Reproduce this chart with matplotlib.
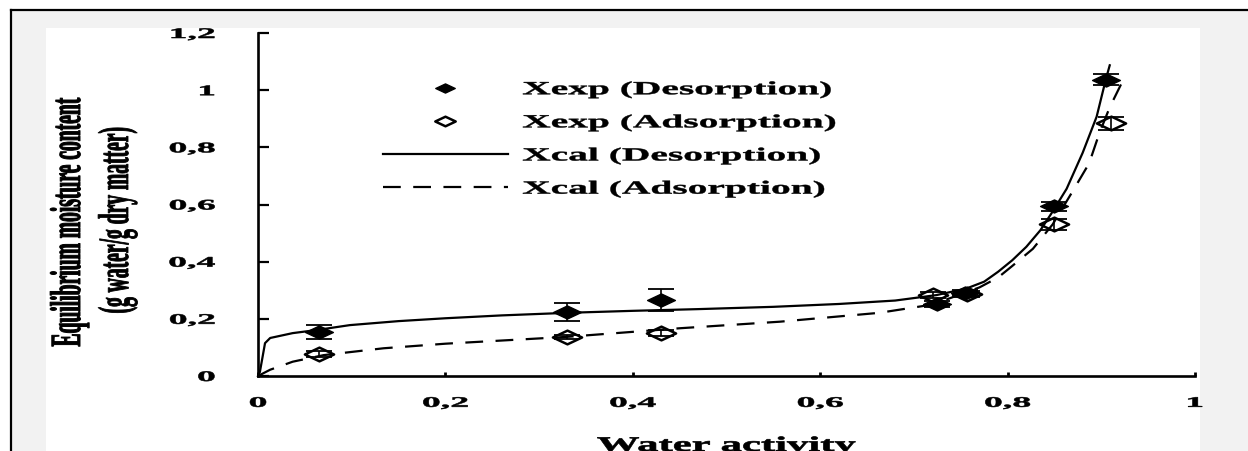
import matplotlib
matplotlib.use("Agg")
import matplotlib.pyplot as plt
from matplotlib.lines import Line2D
from matplotlib.path import Path
from matplotlib.patches import Rectangle
from matplotlib.transforms import Affine2D
from matplotlib.patheffects import AbstractPathEffect

# experimental points (water activity, moisture content, error)
aw_des = [0.065, 0.33, 0.43, 0.725, 0.755, 0.85, 0.905]
x_des = [0.154, 0.224, 0.266, 0.252, 0.290, 0.594, 1.037]
err_des = [0.024, 0.032, 0.038, 0.012, 0.010, 0.015, 0.018]

aw_ads = [0.065, 0.33, 0.43, 0.72, 0.757, 0.85, 0.91]
x_ads = [0.077, 0.136, 0.150, 0.283, 0.288, 0.531, 0.884]
err_ads = [0.010, 0.006, 0.010, 0.010, 0.010, 0.020, 0.023]

# calculated curves
aw_des_cal = [0, 0.002, 0.0075, 0.013, 0.037, 0.063, 0.098, 0.15, 0.2, 0.26,
              0.33, 0.4, 0.47, 0.55, 0.62, 0.68, 0.724, 0.756, 0.775, 0.79,
              0.805, 0.82, 0.835, 0.848, 0.863, 0.88, 0.895, 0.905, 0.909]
x_des_cal = [0, 0.014, 0.115, 0.133, 0.150, 0.161, 0.178, 0.192, 0.202, 0.212,
             0.221, 0.228, 0.234, 0.242, 0.252, 0.264, 0.283, 0.306, 0.33, 0.365,
             0.405, 0.452, 0.51, 0.575, 0.655, 0.78, 0.907, 1.04, 1.087]

aw_ads_cal = [0, 0.013, 0.02, 0.037, 0.07, 0.134, 0.2, 0.33, 0.45, 0.557,
              0.663, 0.72, 0.77, 0.79, 0.805, 0.827, 0.848, 0.869, 0.887, 0.898,
              0.909, 0.921]
x_ads_cal = [0, 0.022, 0.03, 0.05, 0.073, 0.097, 0.113, 0.137, 0.167, 0.19,
             0.221, 0.25, 0.31, 0.345, 0.385, 0.445, 0.53, 0.644, 0.744, 0.85,
             0.94, 1.02]

xticks = [0, 0.2, 0.4, 0.6, 0.8, 1.0]
xtick_labels = ["0", "0,2", "0,4", "0,6", "0,8", "1"]
yticks = [0, 0.2, 0.4, 0.6, 0.8, 1.0, 1.2]
ytick_labels = ["0", "0,2", "0,4", "0,6", "0,8", "1", "1,2"]

legend_labels = ["Xexp (Desorption)", "Xexp (Adsorption)",
                 "Xcal (Desorption)", "Xcal (Adsorption)"]


class Stretch(AbstractPathEffect):
    # scales the glyph outlines (text stays a Text artist), optional outline to fatten
    def __init__(self, sx=1.0, sy=1.0, anchor="center", lw=0.0):
        super().__init__()
        self.sx, self.sy, self.anchor, self.lw = sx, sy, anchor, lw

    def draw_path(self, renderer, gc, tpath, affine, rgbFace=None):
        ext = tpath.get_extents()
        cx = {"left": ext.x0, "center": (ext.x0 + ext.x1) / 2,
              "right": ext.x1}[self.anchor]
        pre = Affine2D().translate(-cx, 0).scale(self.sx, self.sy).translate(cx, 0)
        gc0 = renderer.new_gc()
        gc0.copy_properties(gc)
        if self.lw > 0 and rgbFace is not None:
            gc0.set_linewidth(self.lw)
            gc0.set_foreground(rgbFace)
            gc0.set_joinstyle("round")
        renderer.draw_path(gc0, tpath, pre + affine, rgbFace)
        gc0.restore()


plt.rcParams["font.family"] = ["Liberation Serif", "DejaVu Serif"]
plt.rcParams["font.weight"] = "bold"

W, H = 1248, 451
fig = plt.figure(figsize=(W / 100, H / 100), dpi=100)
fig.patch.set_facecolor("white")

# screenshot frame: grey surround, white page, black border top/left
fig.add_artist(Rectangle((11 / W, 0), 1, 1 - 10 / H, transform=fig.transFigure,
                         facecolor="#f2f2f2", edgecolor="none", zorder=-3))
fig.add_artist(Rectangle((46 / W, 0), (1200 - 46) / W, 1 - 28 / H,
                         transform=fig.transFigure, facecolor="white",
                         edgecolor="none", zorder=-2))
fig.add_artist(Line2D([10.5 / W, 1], [1 - 10 / H, 1 - 10 / H], color="black",
                      lw=1.6, transform=fig.transFigure))
fig.add_artist(Line2D([10.5 / W, 10.5 / W], [0, 1 - 10 / H], color="black",
                      lw=1.6, transform=fig.transFigure))

ax = fig.add_axes([258 / W, 75 / H, (1195 - 258) / W, (376 - 33) / H])
ax.set_facecolor("none")
ax.set_xlim(0, 1)
ax.set_ylim(0, 1.2)
for s in ["top", "right"]:
    ax.spines[s].set_visible(False)
for s in ["left", "bottom"]:
    ax.spines[s].set_linewidth(1.9)

diamond = Path([(-1, 0), (0, 0.47), (1, 0), (0, -0.47), (-1, 0)],
               [Path.MOVETO, Path.LINETO, Path.LINETO, Path.LINETO, Path.CLOSEPOLY])

ax.plot(aw_des_cal, x_des_cal, color="black", lw=1.6, clip_on=False, zorder=3)
ax.plot(aw_ads_cal, x_ads_cal, color="black", lw=1.6, dashes=(8, 5.6),
        clip_on=False, zorder=3)

ax.errorbar(aw_des, x_des, yerr=err_des, fmt="none", ecolor="black",
            elinewidth=1.2, capsize=9.5, capthick=1.3, zorder=4)
ax.errorbar(aw_ads, x_ads, yerr=err_ads, fmt="none", ecolor="black",
            elinewidth=1.2, capsize=9.5, capthick=1.3, zorder=4)
ax.plot(aw_des, x_des, ls="none", marker=diamond, ms=20, color="black",
        zorder=5, clip_on=False)
ax.plot(aw_ads, x_ads, ls="none", marker=diamond, ms=21, mfc="none",
        mec="black", mew=1.8, zorder=5, clip_on=False)

ax.set_xticks(xticks, xtick_labels)
ax.set_yticks(yticks, ytick_labels)
ax.tick_params(axis="y", direction="in", length=8, width=1.6, pad=31,
               labelsize=10.5)
ax.tick_params(axis="x", direction="in", length=3, width=2, pad=15,
               labelsize=10.5)
for lab in ax.get_yticklabels():
    lab.set_path_effects([Stretch(2.6, anchor="right", lw=0.4)])
for lab in ax.get_xticklabels():
    lab.set_path_effects([Stretch(2.6, anchor="center", lw=0.4)])

ax.set_xlabel("Water activity", fontsize=15, fontweight="bold")
ax.xaxis.set_label_coords(0.5, (376 - 436) / 343)
ax.xaxis.label.set_path_effects([Stretch(2.05, anchor="center", lw=0.5)])

t1 = fig.text(80 / W, 1 - 222 / H, "Equilibrium moisture content", rotation=90,
              rotation_mode="anchor", ha="center", va="baseline", fontsize=14.1,
              fontweight="bold")
t1.set_path_effects([Stretch(1.0, 2.2, anchor="center", lw=0.7)])
t2 = fig.text(128 / W, 1 - 220 / H, "(g water/g dry matter)", rotation=90,
              rotation_mode="anchor", ha="center", va="baseline", fontsize=14.1,
              fontweight="bold")
t2.set_path_effects([Stretch(1.0, 2.2, anchor="center", lw=0.6)])

handles = [
    Line2D([], [], ls="none", marker=diamond, ms=20, color="black"),
    Line2D([], [], ls="none", marker=diamond, ms=21, mfc="none", mec="black", mew=1.8),
    Line2D([], [], color="black", lw=1.6),
    Line2D([], [], color="black", lw=1.6, dashes=(8, 5.6)),
]
leg = ax.legend(handles, legend_labels, loc="upper left",
                bbox_to_anchor=(383 / W, 1 - 81 / H), bbox_transform=fig.transFigure,
                frameon=False, borderpad=0, borderaxespad=0, fontsize=13.4,
                handlelength=6.7, handletextpad=0.8, labelspacing=0.85,
                markerscale=0.7)
for txt in leg.get_texts():
    txt.set_fontweight("bold")
    txt.set_path_effects([Stretch(2.12, anchor="left", lw=0.3)])

fig.savefig("out.png", dpi=100)
